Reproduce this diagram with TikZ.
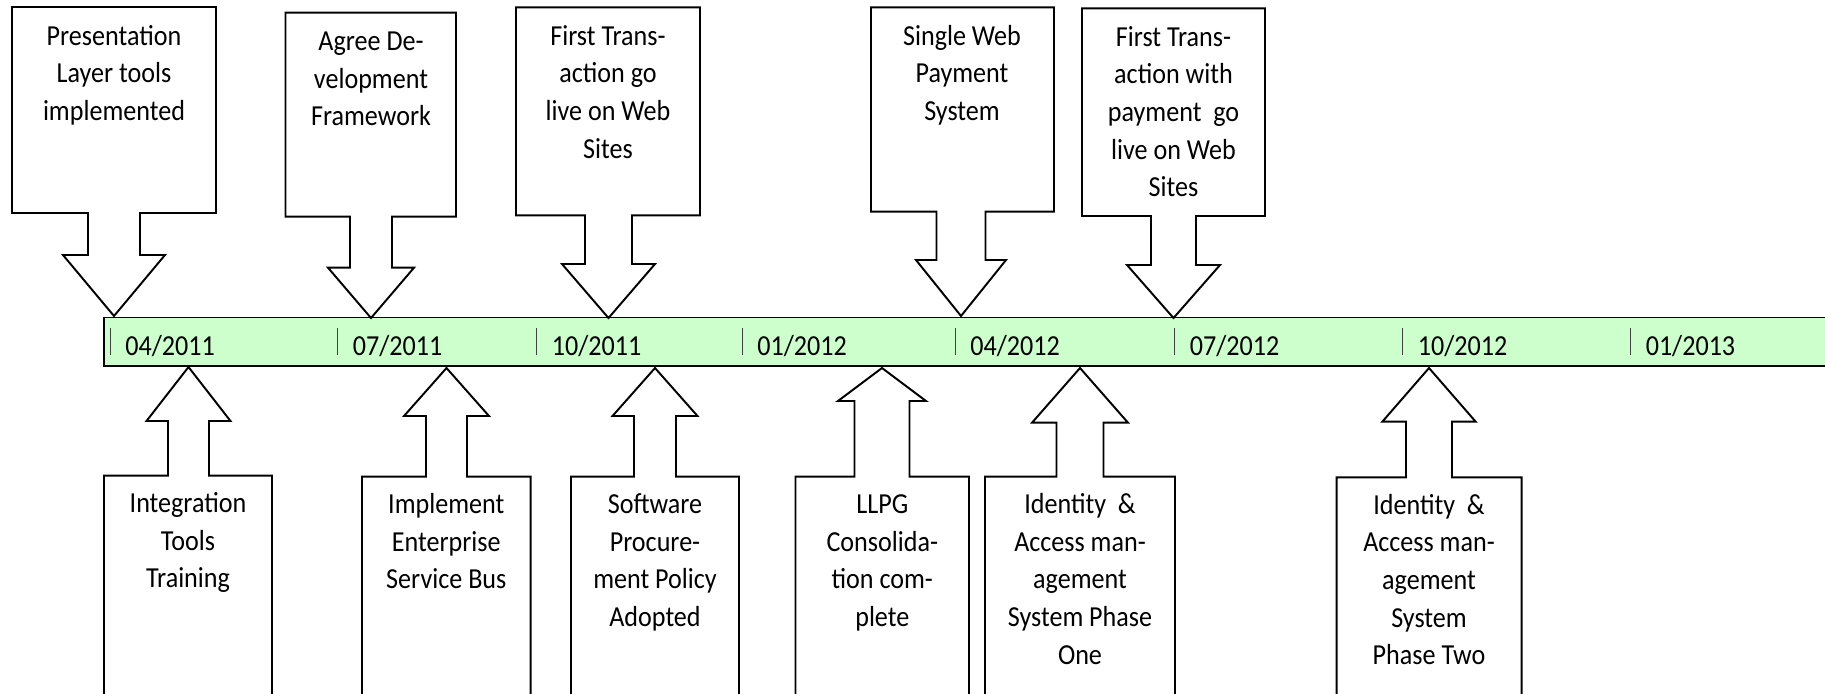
\documentclass[tikz,border=0pt]{standalone}
\usepackage{fontspec}
\setmainfont[FakeStretch=0.9]{Carlito}
\usetikzlibrary{positioning}
\definecolor{barfill}{HTML}{CCFFCC}
\tikzset{
  callout/.style={draw=black,fill=white,line width=1.1pt,line join=miter},
  bar/.style={draw=black,fill=barfill,line width=1.1pt},
  tick/.style={draw=black!75,line width=0.5pt},
  lbl/.style={align=center,inner sep=0pt,anchor=north,
    font=\fontsize{16.5pt}{21.4pt}\selectfont},
  datelbl/.style={inner sep=0pt,anchor=base west,
    font=\fontsize{16.5pt}{21.4pt}\selectfont}
}

\begin{document}
\begin{tikzpicture}[x=0.2mm,y=-0.2mm]
		\clip (0,0) rectangle (1825,693);
		% time bar
		\draw[bar] (104,317.5) rectangle (1850,365.7);
		\draw[tick] (110,328)--(110,355);
		\draw[tick] (337,328)--(337,355);
		\draw[tick] (536.6,328)--(536.6,355);
		\draw[tick] (742,328)--(742,355);
		\draw[tick] (955,328)--(955,355);
		\draw[tick] (1174.5,328)--(1174.5,355);
		\draw[tick] (1402.5,328)--(1402.5,355);
		\draw[tick] (1630.4,328)--(1630.4,355);
		\node[datelbl] (d1) at (125,355) {04/2011};
		\node[datelbl] (d2) at (352.5,355) {07/2011};
		\node[datelbl] (d3) at (551.6,355) {10/2011};
		\node[datelbl] (d4) at (757,355) {01/2012};
		\node[datelbl] (d5) at (970,355) {04/2012};
		\node[datelbl] (d6) at (1189.5,355) {07/2012};
		\node[datelbl] (d7) at (1417.5,355) {10/2012};
		\node[datelbl] (d8) at (1645.4,355) {01/2013};
		
		% milestones above the bar
		\draw[callout] (12,7)--(216,7)--(216,213)--(140,213)--(140,255)--(165,255)
			--(114,316)--(63,255)--(88,255)--(88,213)--(12,213)--cycle;
		\draw[callout] (285.5,12.7)--(456,12.7)--(456,216.7)--(392,216.7)--(392,267.7)--(414,267.7)
			--(371,318)--(328,267.7)--(350,267.7)--(350,216.7)--(285.5,216.7)--cycle;
		\draw[callout] (516,7.3)--(700,7.3)--(700,215.3)--(632,215.3)--(632,264)--(655,264)
			--(608.5,318)--(562,264)--(585,264)--(585,215.3)--(516,215.3)--cycle;
		\draw[callout] (871,7.3)--(1054,7.3)--(1054,211.7)--(985.5,211.7)--(985.5,260)--(1006,260)
			--(961,316)--(916,260)--(936.5,260)--(936.5,211.7)--(871,211.7)--cycle;
		\draw[callout] (1082,8.3)--(1265,8.3)--(1265,216)--(1196,216)--(1196,265)--(1220,265)
			--(1173.5,318)--(1127,265)--(1151,265)--(1151,216)--(1082,216)--cycle;
		\node[lbl] (p1) at (114,18.5) {\strut Presentation\\Layer tools\\implemented};
		\node[lbl] (p2) at (371,24) {\strut Agree De-\\velopment\\Framework};
		\node[lbl] (p3) at (608,18.5) {\strut First Trans-\\action go\\live on Web\\Sites};
		\node[lbl] (p4) at (962,18.5) {\strut Single Web\\Payment\\System};
		\node[lbl] (p5) at (1173.5,19.5) {\strut First Trans-\\action with\\payment~ go\\live on Web\\Sites};
		
		% milestones below the bar
		\draw[callout] (104,700)--(104,475.7)--(168,475.7)--(168,421)--(146.5,421)--(188.5,367)
			--(230.5,421)--(209,421)--(209,475.7)--(272,475.7)--(272,700);
		\draw[callout] (362,700)--(362,476.7)--(426,476.7)--(426,416)--(404,416)--(446.5,368)
			--(489,416)--(467,416)--(467,476.7)--(530.6,476.7)--(530.6,700);
		\draw[callout] (571,700)--(571,476.7)--(634,476.7)--(634,416)--(612.5,416)--(655,368)
			--(697.5,416)--(676,416)--(676,476.7)--(739,476.7)--(739,700);
		\draw[callout] (795.5,700)--(795.5,476.7)--(854.5,476.7)--(854.5,401)--(838,401)--(882,368)
			--(926,401)--(909.5,401)--(909.5,476.7)--(969,476.7)--(969,700);
		\draw[callout] (985,700)--(985,476.7)--(1056.5,476.7)--(1056.5,422.7)--(1032,422.7)--(1080,368)
			--(1128,422.7)--(1103.5,422.7)--(1103.5,476.7)--(1175,476.7)--(1175,700);
		\draw[callout] (1336.7,700)--(1336.7,477.3)--(1406,477.3)--(1406,421.7)--(1382.3,421.7)--(1429,368)
			--(1475.7,421.7)--(1452,421.7)--(1452,477.3)--(1521.6,477.3)--(1521.6,700);
		\node[lbl] (m1) at (188,486) {\strut Integration\\Tools\\Training};
		\node[lbl] (m2) at (446.3,487) {\strut Implement\\Enterprise\\Service Bus};
		\node[lbl] (m3) at (655,487) {\strut Software\\Procure-\\ment Policy\\Adopted};
		\node[lbl] (m4) at (882.3,487) {\strut LLPG\\Consolida-\\tion com-\\plete};
		\node[lbl] (m5) at (1080,487) {\strut Identity~ \&\\Access man-\\agement\\System Phase\\One};
		\node[lbl] (m6) at (1429,487.6) {\strut Identity~ \&\\Access man-\\agement\\System\\Phase Two};
		
		\end{tikzpicture}
\end{document}
